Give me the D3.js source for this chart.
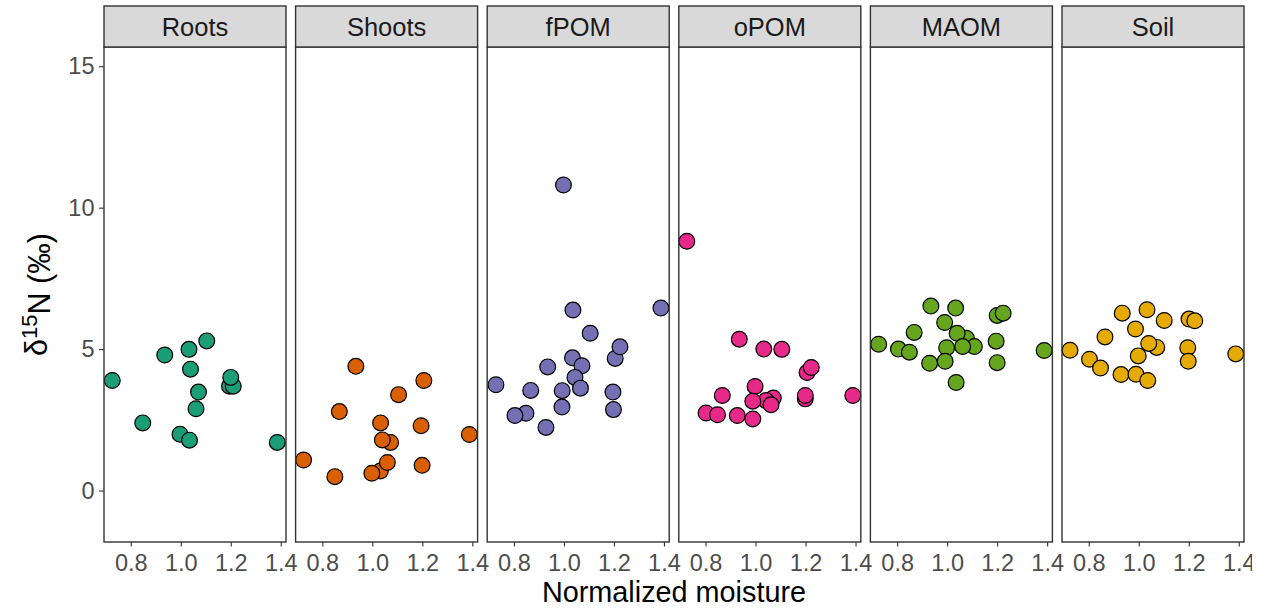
<!DOCTYPE html>
<html>
<head>
<meta charset="utf-8">
<script src="https://cdn.jsdelivr.net/npm/d3@7"></script>
<style>
  body { margin: 0; background: #fff; }
  svg { display: block; font-family: "Liberation Sans", Arial, sans-serif; }
</style>
</head>
<body>
<div id="chart"></div>
<script>
// ---- data ----
const facets = ["Roots", "Shoots", "fPOM", "oPOM", "MAOM", "Soil"];
const colors = ["#1B9E77", "#D95F02", "#7570B3", "#E7298A", "#66A61E", "#E6AB02"];
const xTicks = [0.8, 1.0, 1.2, 1.4];
const yTicks = [0, 5, 10, 15];

// [normalized moisture, d15N]
const roots = [
  [0.726, 3.89], [0.848, 2.39], [0.936, 4.79], [1.033, 4.99], [1.104, 5.29],
  [1.039, 4.29], [1.071, 3.48], [1.061, 2.89], [0.997, 1.99], [1.035, 1.78],
  [1.195, 3.69], [1.210, 3.69], [1.200, 4.00], [1.386, 1.70]
];
const shoots = [
  [0.725, 1.08], [0.850, 0.49], [0.868, 2.79], [0.934, 4.39], [1.033, 2.39],
  [1.073, 1.70], [1.040, 1.79], [1.105, 3.39], [1.032, 0.69], [1.060, 0.99],
  [0.998, 0.61], [1.206, 3.89], [1.195, 2.29], [1.199, 0.89], [1.388, 1.98]
];
const fpom = [
  [0.998, 10.80], [1.036, 6.38], [1.388, 6.45], [1.105, 5.56], [1.205, 4.67],
  [1.224, 5.08], [1.034, 4.69], [1.072, 4.41], [0.935, 4.37], [1.044, 4.00],
  [1.066, 3.62], [0.993, 3.53], [0.728, 3.74], [0.867, 3.54], [1.196, 3.48],
  [0.992, 2.95], [1.198, 2.86], [0.848, 2.73], [0.804, 2.65], [0.928, 2.23]
];
const opom = [
  [0.725, 8.81], [0.935, 5.35], [1.033, 5.00], [1.105, 4.99], [1.206, 4.17],
  [1.223, 4.35], [0.998, 3.68], [0.867, 3.36], [1.389, 3.36], [1.199, 3.24],
  [1.199, 3.36], [1.071, 3.27], [1.042, 3.18], [0.989, 3.16], [1.062, 3.03],
  [0.802, 2.74], [0.848, 2.68], [0.927, 2.65], [0.989, 2.53]
];
const maom = [
  [0.726, 5.17], [0.805, 5.00], [0.849, 4.89], [0.868, 5.59], [0.935, 6.52],
  [1.034, 6.45], [0.990, 5.94], [1.077, 5.38], [1.040, 5.56], [1.109, 5.09],
  [0.998, 5.05], [1.062, 5.09], [0.930, 4.50], [0.992, 4.57], [1.036, 3.82],
  [1.200, 6.19], [1.224, 6.27], [1.196, 5.28], [1.200, 4.52], [1.388, 4.95]
];
const soil = [
  [0.725, 4.96], [0.803, 4.64], [0.847, 4.33], [0.865, 5.43], [0.934, 6.27],
  [1.033, 6.39], [1.102, 6.01], [0.987, 5.71], [1.072, 5.06], [1.040, 5.20],
  [0.998, 4.76], [0.929, 4.10], [0.989, 4.11], [1.036, 3.89], [1.201, 6.06],
  [1.224, 6.00], [1.196, 5.05], [1.198, 4.57], [1.388, 4.83]
];
const series = [roots, shoots, fpom, opom, maom, soil];

// ---- layout ----
const width = 1268, height = 611;
const panelW = 182, panelStep = 191.6, left0 = 104;
const stripTop = 6, panelTop = 47, panelBottom = 542;

const svg = d3.select("#chart").append("svg")
  .attr("width", width).attr("height", height);

svg.append("defs").append("clipPath").attr("id", "crop")
  .append("rect").attr("x", 0).attr("y", 0).attr("width", 1252).attr("height", height);

const root = svg.append("g").attr("clip-path", "url(#crop)");

const x = d3.scaleLinear().domain([0.693, 1.421]).range([0, panelW]);
const y = d3.scaleLinear().domain([-1.82, 15.68]).range([panelBottom, panelTop]);

// y axis (left of first panel)
const yAxis = root.append("g")
  .attr("transform", `translate(${left0},0)`)
  .call(d3.axisLeft(y).tickValues(yTicks).tickSize(5).tickPadding(4.5).tickFormat(d3.format("d")));
yAxis.select(".domain").remove();
yAxis.selectAll(".tick line").attr("stroke", "#333").attr("stroke-width", 1.1);
yAxis.selectAll(".tick text")
  .attr("fill", "#4D4D4D").style("font-size", "23.5px")
  .style("font-family", "'Liberation Sans', Arial, sans-serif");

facets.forEach((name, i) => {
  const g = root.append("g").attr("transform", `translate(${left0 + i * panelStep},0)`);

  // x axis
  const xa = g.append("g")
    .attr("transform", `translate(0,${panelBottom})`)
    .call(d3.axisBottom(x).tickValues(xTicks).tickSize(4.5).tickPadding(8).tickFormat(d3.format(".1f")));
  xa.select(".domain").remove();
  xa.selectAll(".tick line").attr("stroke", "#333").attr("stroke-width", 1.1);
  xa.selectAll(".tick text")
    .attr("fill", "#4D4D4D").style("font-size", "23.5px")
    .style("font-family", "'Liberation Sans', Arial, sans-serif");

  // panel background
  g.append("rect")
    .attr("x", 0).attr("y", panelTop)
    .attr("width", panelW).attr("height", panelBottom - panelTop)
    .attr("fill", "#fff");

  // points
  g.append("g")
    .selectAll("circle")
    .data(series[i])
    .enter()
    .append("circle")
    .attr("cx", d => x(d[0]))
    .attr("cy", d => y(d[1]))
    .attr("r", 7.9)
    .attr("fill", colors[i])
    .attr("stroke", "#000")
    .attr("stroke-width", 1.2);

  // panel border
  g.append("rect")
    .attr("x", 0).attr("y", panelTop)
    .attr("width", panelW).attr("height", panelBottom - panelTop)
    .attr("fill", "none").attr("stroke", "#333").attr("stroke-width", 1.4);

  // strip
  g.append("rect")
    .attr("x", 0).attr("y", stripTop)
    .attr("width", panelW).attr("height", panelTop - stripTop)
    .attr("fill", "#D9D9D9").attr("stroke", "#333").attr("stroke-width", 1.4);

  g.append("text")
    .attr("x", panelW / 2).attr("y", (stripTop + panelTop) / 2 + 1)
    .attr("dy", "0.35em")
    .attr("text-anchor", "middle")
    .attr("fill", "#1A1A1A")
    .style("font-size", "25.5px")
    .text(name);
});

// axis titles
const plotMid = left0 + (5 * panelStep + panelW) / 2;
root.append("text")
  .attr("x", plotMid).attr("y", 601.5)
  .attr("text-anchor", "middle")
  .attr("fill", "#000")
  .style("font-size", "28.8px")
  .text("Normalized moisture");

const yTitle = root.append("text")
  .attr("transform", `translate(46.5,${(panelTop + panelBottom) / 2}) rotate(-90)`)
  .attr("text-anchor", "middle")
  .attr("fill", "#000")
  .style("font-size", "30.5px");
yTitle.append("tspan").text("δ");
yTitle.append("tspan").attr("dy", "-0.45em").style("font-size", "22px").text("15");
yTitle.append("tspan").attr("dy", "0.45em").text("N (‰)");
</script>
</body>
</html>
